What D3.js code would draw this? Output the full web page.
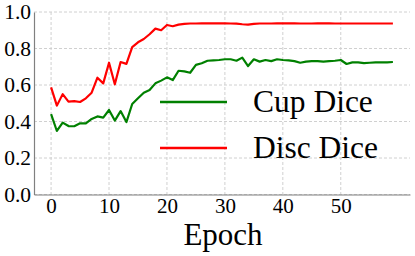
<!DOCTYPE html>
<html>
<head>
<meta charset="utf-8">
<script src="https://cdn.jsdelivr.net/npm/d3@7"></script>
<style>
  body { margin: 0; background: #fff; }
  text { font-family: "Liberation Serif", "Times New Roman", serif; fill: #000; }
</style>
</head>
<body>
<svg id="chart" width="415" height="256"></svg>
<script>
// values, one per epoch (0..59)
const cupDice = [
  0.44, 0.348, 0.394, 0.375, 0.374, 0.39, 0.39, 0.414, 0.428, 0.421,
  0.463, 0.405, 0.457, 0.397, 0.496, 0.527, 0.558, 0.573, 0.609, 0.624,
  0.642, 0.627, 0.678, 0.675, 0.667, 0.71, 0.719, 0.733, 0.735, 0.737,
  0.741, 0.741, 0.733, 0.75, 0.704, 0.741, 0.728, 0.737, 0.731, 0.741,
  0.737, 0.735, 0.731, 0.722, 0.728, 0.731, 0.731, 0.728, 0.731, 0.733,
  0.737, 0.715, 0.724, 0.724, 0.72, 0.722, 0.724, 0.724, 0.724, 0.726
];
const discDice = [
  0.587, 0.487, 0.55, 0.509, 0.512, 0.507, 0.527, 0.558, 0.64, 0.609,
  0.722, 0.604, 0.726, 0.716, 0.808, 0.834, 0.852, 0.878, 0.909, 0.9,
  0.929, 0.922, 0.931, 0.935, 0.937, 0.937, 0.938, 0.938, 0.938, 0.938,
  0.938, 0.937, 0.936, 0.933, 0.931, 0.935, 0.937, 0.937, 0.937, 0.938,
  0.938, 0.938, 0.938, 0.937, 0.937, 0.937, 0.938, 0.938, 0.938, 0.937,
  0.937, 0.937, 0.937, 0.937, 0.937, 0.937, 0.937, 0.937, 0.937, 0.937
];
const seriesNames = ["Cup Dice", "Disc Dice"];
const seriesColors = ["#008000", "#ff0000"];
const xTicks = [0, 10, 20, 30, 40, 50];
const yTicks = [0.0, 0.2, 0.4, 0.6, 0.8, 1.0];

const svg = d3.select("#chart");
const m = { left: 34, right: 410, top: 12, bottom: 194.5 };

const x = d3.scaleLinear().domain([-2.95, 61.95]).range([m.left, m.right]);
const y = d3.scaleLinear().domain([0, 1]).range([m.bottom, m.top]);

// grid
const grid = svg.append("g");
grid.selectAll("line.gx").data(xTicks).enter().append("line")
  .attr("x1", d => x(d)).attr("x2", d => x(d))
  .attr("y1", m.top).attr("y2", m.bottom)
  .attr("stroke", "#d0d0d0").attr("stroke-width", 1).attr("stroke-dasharray", "3,2");
grid.selectAll("line.gy").data(yTicks).enter().append("line")
  .attr("x1", m.left).attr("x2", m.right)
  .attr("y1", d => y(d)).attr("y2", d => y(d))
  .attr("stroke", "#d0d0d0").attr("stroke-width", 1).attr("stroke-dasharray", "3,2");

// axes
const xAxis = svg.append("g")
  .attr("transform", `translate(0,${m.bottom})`)
  .call(d3.axisBottom(x).tickValues(xTicks).tickSize(0).tickPadding(4).tickFormat(d3.format("d")));
xAxis.select(".domain").attr("stroke", "#808080").attr("stroke-width", 1.2);
xAxis.selectAll("text").attr("font-size", 21).attr("font-family", "Liberation Serif");

const yAxis = svg.append("g")
  .attr("transform", `translate(${m.left},0)`)
  .call(d3.axisLeft(y).tickValues(yTicks).tickSize(0).tickPadding(3).tickFormat(d3.format(".1f")));
yAxis.select(".domain").attr("stroke", "#808080").attr("stroke-width", 1.2);
yAxis.selectAll("text").attr("font-size", 21.5).attr("font-family", "Liberation Serif");

svg.append("text")
  .attr("x", 223).attr("y", 245)
  .attr("text-anchor", "middle")
  .attr("font-size", 31)
  .text("Epoch");

// lines
const line = d3.line().x((d, i) => x(i)).y(d => y(d));
[cupDice, discDice].forEach((s, k) => {
  svg.append("path")
    .attr("d", line(s))
    .attr("fill", "none")
    .attr("stroke", seriesColors[k])
    .attr("stroke-width", 2.2)
    .attr("stroke-linejoin", "round");
});

// legend
const legend = svg.append("g");
seriesNames.forEach((name, k) => {
  const ly = 102 + k * 46;
  legend.append("line")
    .attr("x1", 160).attr("x2", 227)
    .attr("y1", ly).attr("y2", ly)
    .attr("stroke", seriesColors[k]).attr("stroke-width", 2.5);
  legend.append("text")
    .attr("x", 253).attr("y", ly + 10)
    .attr("font-size", 31.5)
    .text(name);
});
</script>
</body>
</html>
